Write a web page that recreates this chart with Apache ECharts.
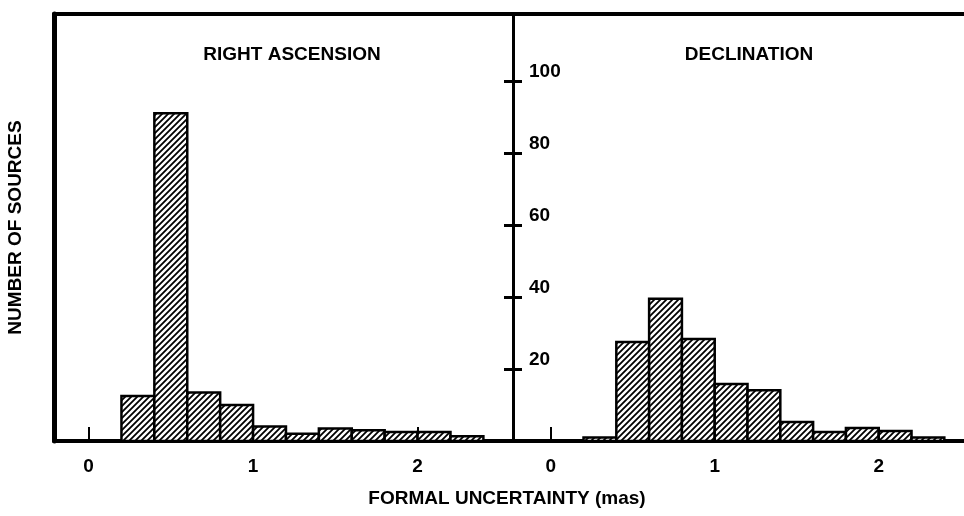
<!DOCTYPE html>
<html>
<head>
<meta charset="utf-8">
<script src="https://cdn.jsdelivr.net/npm/echarts@6/dist/echarts.min.js"></script>
<style>
  html, body { margin: 0; padding: 0; background: #fff; }
  #main { width: 964px; height: 516px; }
</style>
</head>
<body>
<div id="main"></div>
<script>
// histogram bins (mas), width 0.2
var binStart = [0.2, 0.4, 0.6, 0.8, 1.0, 1.2, 1.4, 1.6, 1.8, 2.0, 2.2];
var binWidth = 0.2;
// number of sources per bin
var raCounts = [12.5, 91, 13.5, 10, 4, 2, 3.5, 3, 2.5, 2.5, 1.3];
var decCounts = [1, 27.5, 39.5, 28.3, 15.8, 14.1, 5.3, 2.5, 3.6, 2.8, 1];
var xTicks = [0, 1, 2];
var yTicks = [20, 40, 60, 80, 100];

var FONT = 'Liberation Sans, Arial, sans-serif';
var txt = { fontFamily: FONT, fontSize: 19, fontWeight: 'bold', color: '#000' };

// hatch fill  ///
var hatch = document.createElement('canvas');
hatch.width = 6;
hatch.height = 6;
var ctx = hatch.getContext('2d');
ctx.fillStyle = '#fff';
ctx.fillRect(0, 0, 6, 6);
ctx.strokeStyle = '#000';
ctx.lineWidth = 1.8;
ctx.beginPath();
ctx.moveTo(0, 6); ctx.lineTo(6, 0);
ctx.moveTo(-3, 3); ctx.lineTo(3, -3);
ctx.moveTo(3, 9); ctx.lineTo(9, 3);
ctx.stroke();

function toBins(counts) {
    return binStart.map(function (s, i) {
        return [s, s + binWidth, counts[i]];
    });
}

function renderBar(params, api) {
    var p0 = api.coord([api.value(0), api.value(2)]);
    var p1 = api.coord([api.value(1), 0]);
    return {
        type: 'rect',
        shape: { x: p0[0], y: p0[1], width: p1[0] - p0[0], height: p1[1] - p0[1] },
        style: { fill: { image: hatch, repeat: 'repeat' }, stroke: '#000', lineWidth: 2.5 }
    };
}

var yMax = 118.6;
var line4 = { onZero: false, lineStyle: { color: '#000', width: 4 } };
var line3 = { show: true, onZero: false, lineStyle: { color: '#000', width: 3 } };

var myChart = echarts.init(document.getElementById('main'));

myChart.setOption({
    backgroundColor: '#fff',
    animation: false,
    title: [
        { text: 'RIGHT ASCENSION', left: 292, top: 45, padding: 0, textAlign: 'center', textStyle: txt },
        { text: 'DECLINATION', left: 749, top: 45, padding: 0, textAlign: 'center', textStyle: txt },
        { text: 'FORMAL UNCERTAINTY (mas)', left: 507, top: 489, padding: 0, textAlign: 'center', textStyle: txt }
    ],
    grid: [
        { left: 54, right: 451, top: 14, bottom: 75 },
        { left: 513, right: 0, top: 14, bottom: 75 }
    ],
    xAxis: [
        {
            gridIndex: 0, type: 'value', position: 'bottom', min: -0.21, max: 2.58,
            axisLine: line4,
            axisTick: { inside: true, length: 14, lineStyle: { color: '#000', width: 2 }, customValues: xTicks },
            axisLabel: Object.assign({ margin: 16, customValues: xTicks }, txt),
            splitLine: { show: false }
        },
        {
            gridIndex: 1, type: 'value', position: 'bottom', min: -0.23, max: 2.52,
            axisLine: line4,
            axisTick: { inside: true, length: 14, lineStyle: { color: '#000', width: 2 }, customValues: xTicks },
            axisLabel: Object.assign({ margin: 16, customValues: xTicks }, txt),
            splitLine: { show: false }
        },
        {
            gridIndex: 0, type: 'value', position: 'top', min: -0.21, max: 2.58,
            axisLine: line4,
            axisTick: { show: false }, axisLabel: { show: false }, splitLine: { show: false }
        },
        {
            gridIndex: 1, type: 'value', position: 'top', min: -0.23, max: 2.52,
            axisLine: line4,
            axisTick: { show: false }, axisLabel: { show: false }, splitLine: { show: false }
        }
    ],
    yAxis: [
        {
            gridIndex: 0, type: 'value', position: 'left', min: 0, max: yMax,
            name: 'NUMBER OF SOURCES', nameLocation: 'middle', nameGap: 29,
            nameTextStyle: txt,
            axisLine: { show: true, onZero: false, lineStyle: { color: '#000', width: 5 } },
            axisTick: { show: false }, axisLabel: { show: false }, splitLine: { show: false }
        },
        {
            gridIndex: 0, type: 'value', position: 'right', min: 0, max: yMax,
            axisLine: line3,
            axisTick: { show: true, inside: true, length: 9, lineStyle: { color: '#000', width: 3 }, customValues: yTicks },
            axisLabel: { show: false }, splitLine: { show: false }
        },
        {
            gridIndex: 1, type: 'value', position: 'left', min: 0, max: yMax,
            axisLine: line3,
            axisTick: { show: true, inside: true, length: 9, lineStyle: { color: '#000', width: 3 }, customValues: yTicks },
            axisLabel: Object.assign({ inside: true, margin: 16, verticalAlign: 'bottom', customValues: yTicks }, txt),
            splitLine: { show: false }
        }
    ],
    series: [
        {
            name: 'Right ascension', type: 'custom', xAxisIndex: 0, yAxisIndex: 0,
            renderItem: renderBar, data: toBins(raCounts), z: 1
        },
        {
            name: 'Declination', type: 'custom', xAxisIndex: 1, yAxisIndex: 2,
            renderItem: renderBar, data: toBins(decCounts), z: 1
        }
    ]
});
</script>
</body>
</html>
